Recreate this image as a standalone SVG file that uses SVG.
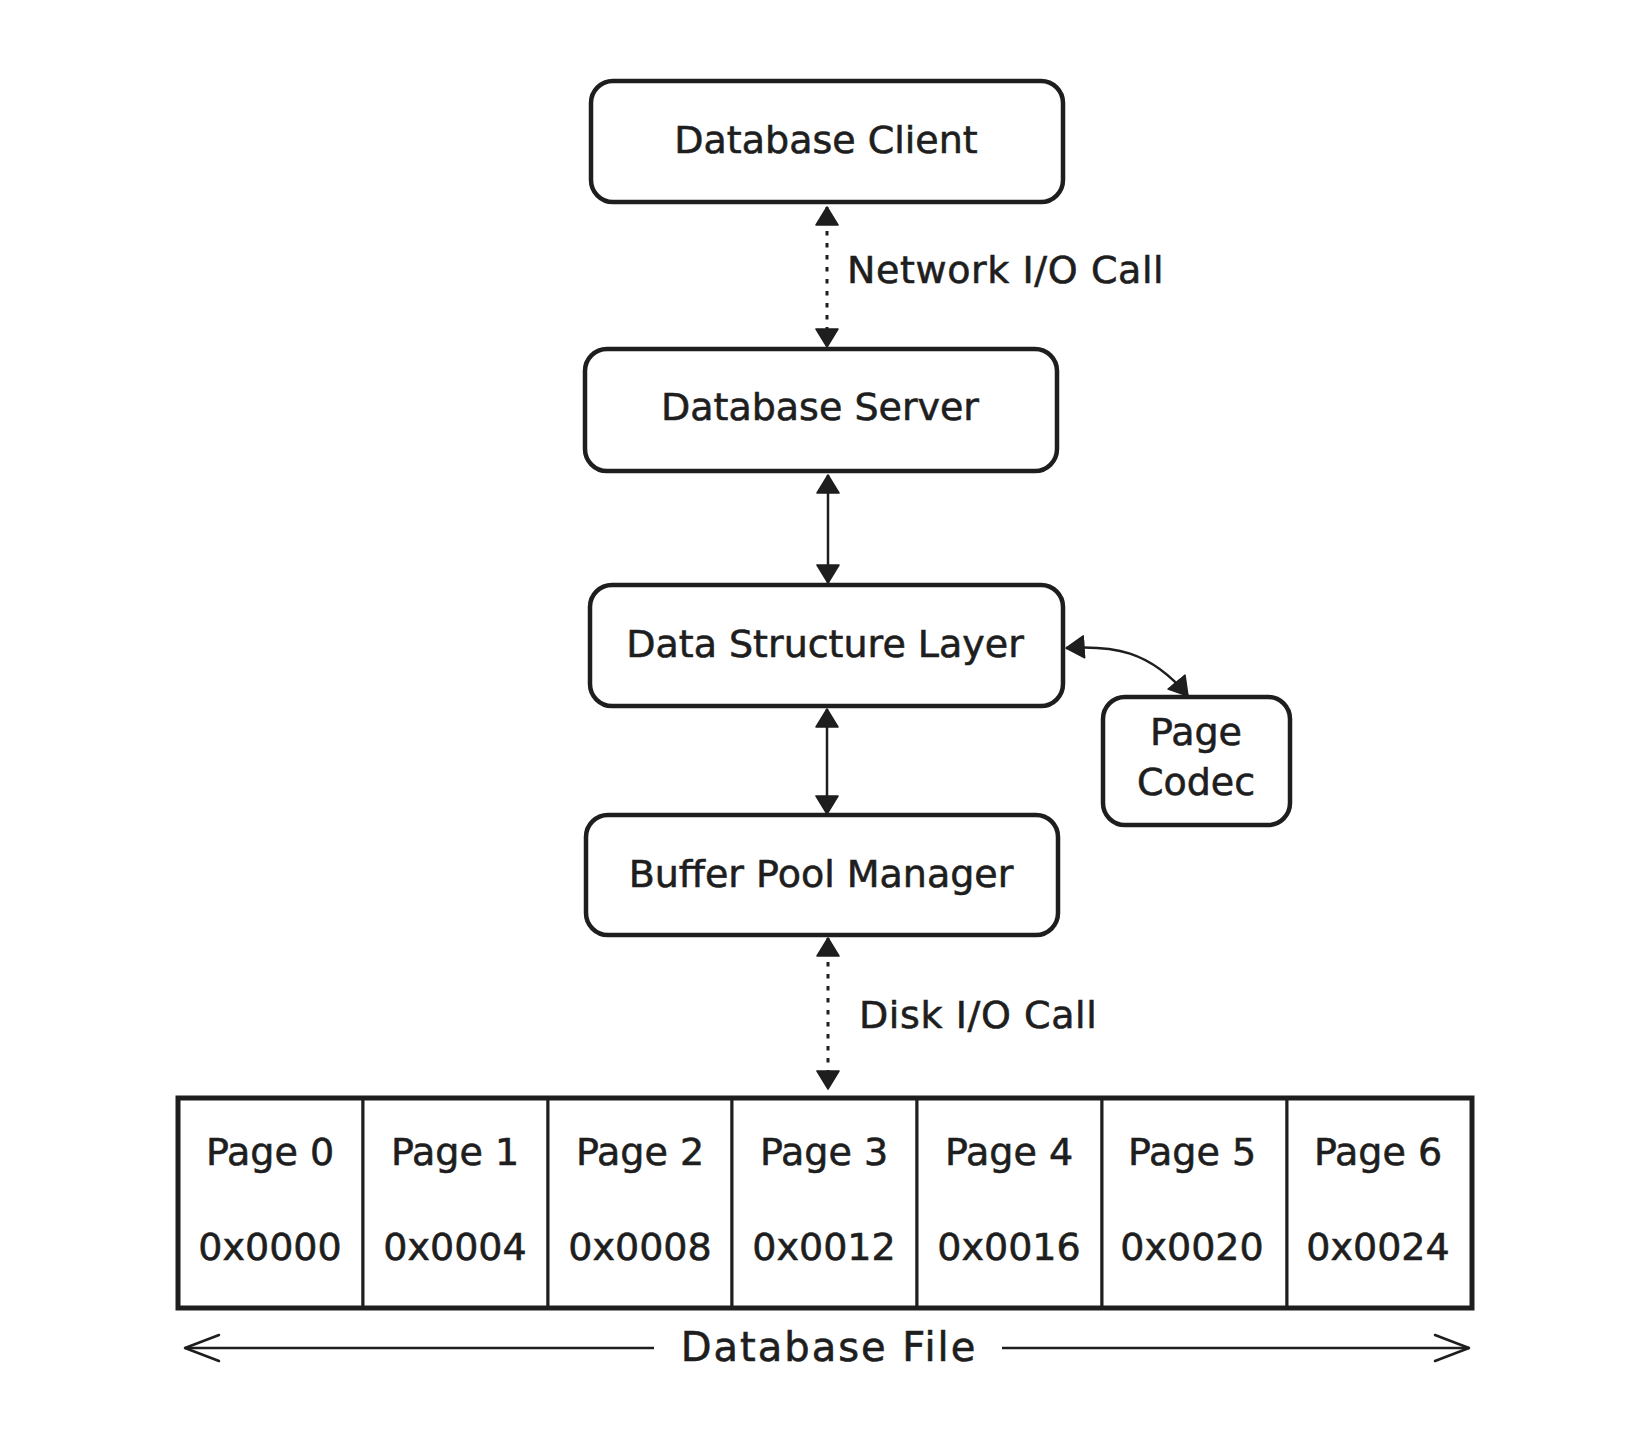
<svg xmlns="http://www.w3.org/2000/svg" width="1642" height="1444" viewBox="0 0 1642 1444">
  <style>
    .box { fill: #ffffff; stroke: #1e1e1e; stroke-width: 4.5; }
    .lbl { font-family: "DejaVu Sans", "Liberation Sans", sans-serif; font-size: 38px; fill: #1e1e1e; stroke: #1e1e1e; stroke-width: 0.6; text-anchor: middle; }
    .lbl-l { font-family: "DejaVu Sans", "Liberation Sans", sans-serif; font-size: 38px; fill: #1e1e1e; stroke: #1e1e1e; stroke-width: 0.6; text-anchor: start; letter-spacing: 0.6px; }
    .conn { fill: none; stroke: #1e1e1e; stroke-width: 2.5; }
    .dot { stroke-dasharray: 4.5 7.5; stroke-width: 3; }
    .cell { fill: #ffffff; stroke: #1e1e1e; stroke-width: 3; }
    .outer { fill: none; stroke: #1e1e1e; stroke-width: 5; }
    .span-lbl { font-size: 40px; letter-spacing: 2px; }
  </style>
  <defs>
    <marker id="tri" markerUnits="userSpaceOnUse" markerWidth="20" markerHeight="24" viewBox="0 0 20 24" refX="19" refY="12" orient="auto-start-reverse">
      <path d="M1,1 L19,12 L1,23 Z" fill="#1e1e1e" stroke="#1e1e1e" stroke-width="1.5" stroke-linejoin="round"/>
    </marker>
    <marker id="chev" markerUnits="userSpaceOnUse" markerWidth="40" markerHeight="32" viewBox="0 0 40 32" refX="37" refY="16" orient="auto-start-reverse">
      <path d="M3,3 L37,16 L3,29" fill="none" stroke="#1e1e1e" stroke-width="2.5" stroke-linecap="round" stroke-linejoin="round"/>
    </marker>
  </defs>

  <rect width="1642" height="1444" fill="#ffffff"/>

  <g id="connectors">
    <path id="c-client-server" class="conn dot" d="M827,207 L827,347" marker-start="url(#tri)" marker-end="url(#tri)"/>
    <path id="c-server-ds" class="conn" d="M828,475 L828,583" marker-start="url(#tri)" marker-end="url(#tri)"/>
    <path id="c-ds-bpm" class="conn" d="M827,709 L827,814" marker-start="url(#tri)" marker-end="url(#tri)"/>
    <path id="c-ds-codec" class="conn" d="M1066,648 C1112,645 1150,650 1188,696" marker-start="url(#tri)" marker-end="url(#tri)"/>
    <path id="c-bpm-file" class="conn dot" d="M828,938 L828,1089" marker-start="url(#tri)" marker-end="url(#tri)"/>
    <text class="lbl-l" x="847" y="283">Network I/O Call</text>
    <text class="lbl-l" x="859" y="1028">Disk I/O Call</text>
  </g>

  <g id="node-client">
    <rect class="box" x="591" y="81" width="472" height="121" rx="22"/>
    <text class="lbl" x="826" y="153">Database Client</text>
  </g>

  <g id="node-server">
    <rect class="box" x="585" y="349" width="472" height="122" rx="22"/>
    <text class="lbl" x="820" y="420">Database Server</text>
  </g>

  <g id="node-ds-layer">
    <rect class="box" x="590" y="585" width="473" height="121" rx="22"/>
    <text class="lbl" x="825" y="657">Data Structure Layer</text>
  </g>

  <g id="node-page-codec">
    <rect class="box" x="1103" y="697" width="187" height="128" rx="22"/>
    <text class="lbl" x="1196" y="745">Page</text>
    <text class="lbl" x="1196" y="795">Codec</text>
  </g>

  <g id="node-bpm">
    <rect class="box" x="586" y="815" width="472" height="120" rx="22"/>
    <text class="lbl" x="821" y="887">Buffer Pool Manager</text>
  </g>

  <g id="node-database-file">
    <g id="page-0">
      <rect class="cell" x="178" y="1098" width="185" height="210"/>
      <text class="lbl" x="270" y="1165">Page 0</text>
      <text class="lbl" x="270" y="1260">0x0000</text>
    </g>
    <g id="page-1">
      <rect class="cell" x="363" y="1098" width="185" height="210"/>
      <text class="lbl" x="455" y="1165">Page 1</text>
      <text class="lbl" x="455" y="1260">0x0004</text>
    </g>
    <g id="page-2">
      <rect class="cell" x="548" y="1098" width="184" height="210"/>
      <text class="lbl" x="640" y="1165">Page 2</text>
      <text class="lbl" x="640" y="1260">0x0008</text>
    </g>
    <g id="page-3">
      <rect class="cell" x="732" y="1098" width="185" height="210"/>
      <text class="lbl" x="824" y="1165">Page 3</text>
      <text class="lbl" x="824" y="1260">0x0012</text>
    </g>
    <g id="page-4">
      <rect class="cell" x="917" y="1098" width="185" height="210"/>
      <text class="lbl" x="1009" y="1165">Page 4</text>
      <text class="lbl" x="1009" y="1260">0x0016</text>
    </g>
    <g id="page-5">
      <rect class="cell" x="1102" y="1098" width="185" height="210"/>
      <text class="lbl" x="1192" y="1165">Page 5</text>
      <text class="lbl" x="1192" y="1260">0x0020</text>
    </g>
    <g id="page-6">
      <rect class="cell" x="1287" y="1098" width="185" height="210"/>
      <text class="lbl" x="1378" y="1165">Page 6</text>
      <text class="lbl" x="1378" y="1260">0x0024</text>
    </g>
    <rect class="outer" x="178" y="1098" width="1294" height="210"/>
  </g>

  <g id="database-file-span">
    <path class="conn" d="M654,1348 L185,1348" marker-end="url(#chev)"/>
    <path class="conn" d="M1002,1348 L1469,1348" marker-end="url(#chev)"/>
    <text class="lbl span-lbl" x="829" y="1361">Database File</text>
  </g>
</svg>
